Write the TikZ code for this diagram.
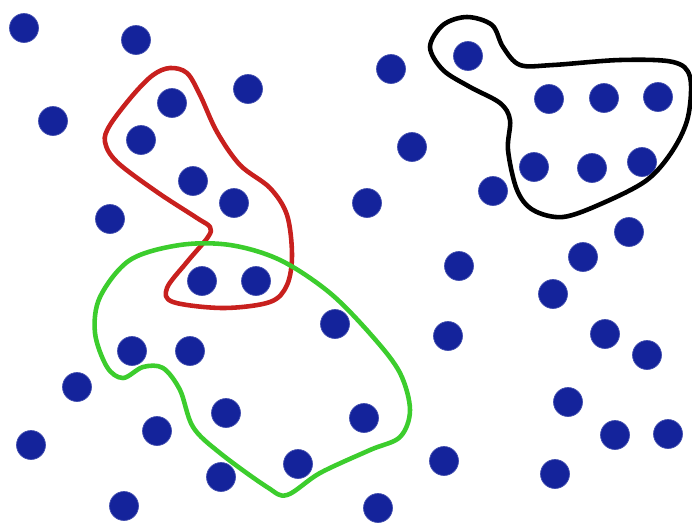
\documentclass[tikz,border=0pt]{standalone}
\usepackage{xcolor}
\usepackage{tikz}
\definecolor{dotblue}{RGB}{20,35,155}
\definecolor{clred}{RGB}{200,32,30}
\definecolor{clgreen}{RGB}{60,205,45}
\tikzset{
  dot/.style   = {circle, fill=dotblue, draw=dotblue!80!white, thin,
                  minimum size=5.8mm, inner sep=0pt},
  hull/.style  = {line width=2.6pt, line join=round},
}
\begin{document}
\begin{tikzpicture}[x=0.02cm, y=-0.02cm]
\useasboundingbox (0,0) rectangle (692,524);

% ===== points =====
\foreach \x/\y [count=\i] in {24/28, 136/40, 172/103, 248/89, 53/121, 141/140,
    193/181, 234/203, 110/219, 391/69, 468/56, 549/99, 604/98, 658/97,
    412/147, 534/167, 592/168, 642/162, 493/191, 367/203, 629/232, 583/257,
    459/266, 202/281, 256/281, 335/324, 132/351, 190/351, 77/387, 226/413,
    157/431, 31/445, 298/464, 221/477, 124/506, 553/294, 448/336, 605/334,
    647/355, 364/418, 568/402, 615/435, 668/434, 444/461, 555/474, 378/508}
  {\node[dot] (d\i) at (\x,\y) {};}

% ===== clusters =====
\draw[hull, clred] plot[smooth cycle, tension=0.55] coordinates {
    (170,68) (187,73) (200,95) (217,132) (240,165) (270,188) (287,215)
    (292,255) (287,285) (270,302) (223,308) (173,302) (167,288) (187,262)
    (208,237) (210,227) (197,218) (157,192) (117,162) (105,142) (110,125)
    (133,95) (153,75)};
\draw[hull, clgreen] plot[smooth cycle, tension=0.55] coordinates {
    (100,297) (130,260) (180,245) (230,245) (280,260) (330,293) (373,337)
    (400,373) (410,410) (400,437) (370,450) (320,473) (287,495) (267,487)
    (220,453) (193,427) (180,390) (163,368) (143,367) (123,378) (107,367)
    (95,333)};
\draw[hull, black] plot[smooth cycle, tension=0.55] coordinates {
    (430,47) (443,25) (467,17) (492,25) (503,47) (520,65) (553,65) (620,60)
    (673,62) (690,77) (688,117) (673,150) (647,180) (603,203) (563,217)
    (533,210) (517,190) (508,150) (510,120) (500,103) (470,87) (443,70)};
\end{tikzpicture}
\end{document}
